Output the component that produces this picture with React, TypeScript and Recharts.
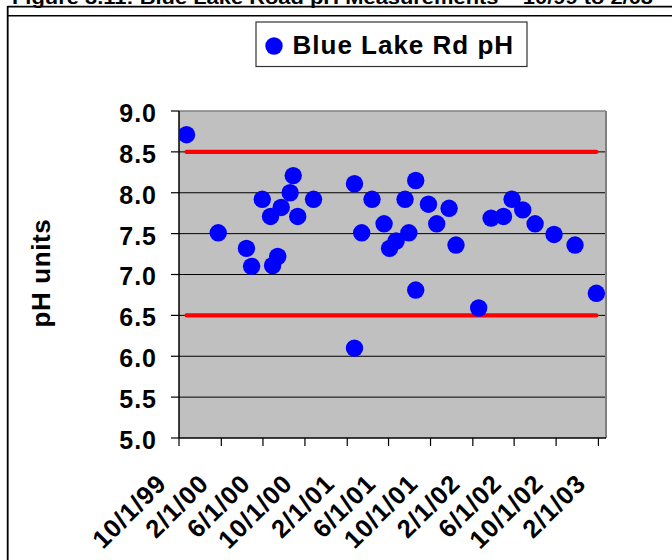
import React from 'react';
import { ComposedChart, Scatter, Line, XAxis, YAxis, CartesianGrid, ReferenceLine } from 'recharts';

// ---- data ----
const sampleDates = [
  '1999-10-23', '2000-01-23', '2000-04-14', '2000-04-29', '2000-05-30', '2000-06-23', '2000-06-29',
  '2000-07-14', '2000-07-24', '2000-08-19', '2000-08-28', '2000-09-10', '2000-10-26',
  '2001-02-22', '2001-02-22', '2001-03-15', '2001-04-14', '2001-05-19', '2001-06-04', '2001-06-23',
  '2001-07-19', '2001-07-30', '2001-08-19', '2001-08-19', '2001-09-25', '2001-10-19', '2001-11-24', '2001-12-14',
  '2002-02-18', '2002-03-26', '2002-05-01', '2002-05-26', '2002-06-26', '2002-08-01', '2002-09-25',
  '2002-11-25', '2003-01-26',
];
const phValues = [
  8.71, 7.51, 7.32, 7.10, 7.92, 7.71, 7.11,
  7.22, 7.82, 8.00, 8.21, 7.71, 7.92,
  8.11, 6.10, 7.51, 7.92, 7.62, 7.32, 7.41,
  7.92, 7.51, 8.15, 6.81, 7.86, 7.62, 7.81, 7.36,
  6.59, 7.69, 7.71, 7.92, 7.79, 7.62, 7.49,
  7.36, 6.77,
];
const limitLineDates = ['1999-10-23', '2003-01-26'];
const upperLimit = 8.5;
const lowerLimit = 6.5;
const xTickDates = [
  '1999-10-01', '2000-02-01', '2000-06-01', '2000-10-01', '2001-02-01', '2001-06-01',
  '2001-10-01', '2002-02-01', '2002-06-01', '2002-10-01', '2003-02-01',
];
const xTickLabels = ['10/1/99', '2/1/00', '6/1/00', '10/1/00', '2/1/01', '6/1/01', '10/1/01', '2/1/02', '6/1/02', '10/1/02', '2/1/03'];
const xDomainDates = ['1999-10-01', '2003-02-23'];
const yTicks = [5.0, 5.5, 6.0, 6.5, 7.0, 7.5, 8.0, 8.5, 9.0];
const gridValues = [5.5, 6.0, 6.5, 7.0, 7.5, 8.0, 8.5];
const seriesName = 'Blue Lake Rd pH';
const yAxisTitle = 'pH units';
const figureTitle = 'Figure 3.11: Blue Lake Road pH Measurements \u2013 10/99 to 2/03';

// ---- helpers ----
const dayOf = (s: string) => {
  const [y, m, d] = s.split('-').map(Number);
  return Date.UTC(y, m - 1, d) / 86400000;
};
const points = sampleDates.map((d, i) => ({ t: dayOf(d), ph: phValues[i] }));
const upperLine = limitLineDates.map((d) => ({ t: dayOf(d), ph: upperLimit }));
const lowerLine = limitLineDates.map((d) => ({ t: dayOf(d), ph: lowerLimit }));
const xTickDays = xTickDates.map(dayOf);
const xDomain = xDomainDates.map(dayOf);

const FONT = "Arial, 'Liberation Sans', sans-serif";

const XTick = (props: any) => {
  const { x, y, payload } = props;
  const idx = xTickDays.indexOf(payload.value);
  const px = x - 11;
  const py = y + 37;
  return (
    <text
      x={px}
      y={py}
      transform={`rotate(-45 ${px} ${py})`}
      textAnchor="end"
      style={{ fontFamily: FONT, fontWeight: 'bold', fontSize: 25.5, fill: '#000', letterSpacing: 1 }}
    >
      {idx >= 0 ? xTickLabels[idx] : ''}
    </text>
  );
};

const Dot = (props: any) => {
  const { cx, cy } = props;
  if (cx == null || cy == null) return null;
  return <circle cx={cx} cy={cy} r={8.7} fill="#0000FF" />;
};

export default function App() {
  return (
    <div style={{ position: 'absolute', left: 0, top: 0, width: 672, height: 560, overflow: 'hidden', background: '#fff' }}>
      <ComposedChart width={672} height={560} margin={{ top: 111, right: 66, bottom: 22, left: 0 }}>
        <CartesianGrid
          vertical={false}
          horizontalValues={gridValues}
          stroke="#000"
          strokeWidth={1}
          fill="#C0C0C0"
          fillOpacity={1}
        />
        <XAxis
          type="number"
          dataKey="t"
          domain={xDomain}
          ticks={xTickDays}
          interval={0}
          height={100}
          tickSize={8}
          tick={<XTick />}
          axisLine={{ stroke: '#000', strokeWidth: 1.5 }}
          tickLine={{ stroke: '#000', strokeWidth: 1.2 }}
          allowDataOverflow
        />
        <YAxis
          type="number"
          dataKey="ph"
          domain={[5, 9]}
          ticks={yTicks}
          interval={0}
          width={179}
          tickSize={8}
          tickMargin={14}
          tickFormatter={(v: number) => v.toFixed(1)}
          tick={{ fontFamily: FONT, fontWeight: 'bold', fontSize: 25, fill: '#000', letterSpacing: 1, dy: 2 }}
          axisLine={{ stroke: '#000', strokeWidth: 1.5 }}
          tickLine={{ stroke: '#000', strokeWidth: 1.2 }}
          allowDataOverflow
        />
        <ReferenceLine y={9} stroke="#808080" strokeWidth={1.5} />
        <ReferenceLine x={xDomain[1]} stroke="#808080" strokeWidth={2} />
        <Line
          data={upperLine}
          dataKey="ph"
          stroke="#FF0000"
          strokeWidth={4.3}
          strokeLinecap="round"
          dot={false}
          activeDot={false}
          isAnimationActive={false}
        />
        <Line
          data={lowerLine}
          dataKey="ph"
          stroke="#FF0000"
          strokeWidth={4.3}
          strokeLinecap="round"
          dot={false}
          activeDot={false}
          isAnimationActive={false}
        />
        <Scatter data={points} dataKey="ph" name={seriesName} shape={<Dot />} isAnimationActive={false} />
      </ComposedChart>
      <svg
        width={672}
        height={560}
        style={{ position: 'absolute', left: 0, top: 0, pointerEvents: 'none' }}
      >
        <text
          x={12}
          y={4}
          textLength={641}
          lengthAdjust="spacingAndGlyphs"
          style={{ fontFamily: FONT, fontWeight: 'bold', fontSize: 18, fill: '#000' }}
        >
          {figureTitle}
        </text>
        <line x1={7.5} y1={6.7} x2={672} y2={6.7} stroke="#000" strokeWidth={1.8} />
        <line x1={7.5} y1={15.8} x2={672} y2={15.8} stroke="#000" strokeWidth={1.5} />
        <line x1={7.7} y1={6} x2={7.7} y2={560} stroke="#000" strokeWidth={1.8} />
        <rect x={256} y={22} width={271} height={44.5} fill="#fff" stroke="#333" strokeWidth={1.2} />
        <circle cx={274} cy={46} r={8.7} fill="#0000FF" />
        <text
          x={292.5}
          y={54.3}
          style={{ fontFamily: FONT, fontWeight: 'bold', fontSize: 26, fill: '#000', letterSpacing: 1 }}
        >
          {seriesName}
        </text>
        <text
          x={50}
          y={273}
          transform="rotate(-90 50 273)"
          textAnchor="middle"
          style={{ fontFamily: FONT, fontWeight: 'bold', fontSize: 26, fill: '#000', letterSpacing: 0.6 }}
        >
          {yAxisTitle}
        </text>
      </svg>
    </div>
  );
}
